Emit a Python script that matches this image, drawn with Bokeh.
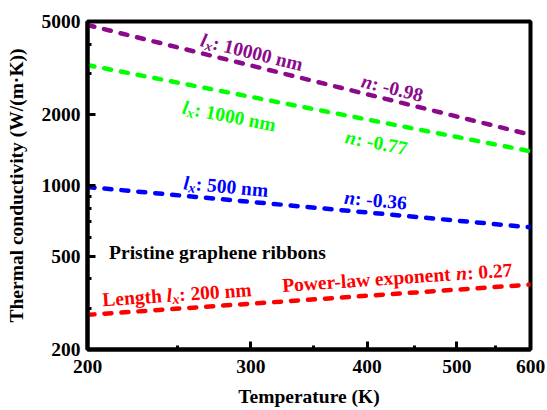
import math

from bokeh.core.properties import value
from bokeh.embed import file_html
from bokeh.models import ColumnDataSource, FixedTicker, NumeralTickFormatter, Range1d
from bokeh.plotting import figure
from bokeh.resources import INLINE

# Power-law fits kappa(T) = kappa_200 * (T / 200) ** n for pristine graphene ribbons
temps = [200, 600]
lengths_nm = [10000, 1000, 500, 200]
kappa_200 = [4830, 3260, 985, 281]
exponents = [-0.98, -0.77, -0.36, 0.27]
colors = ["#8B0A8B", "#00FF00", "#0000FF", "#FF0000"]

x_major = [200, 300, 400, 500, 600]
x_minor = [250, 350, 450, 550]
y_major = [200, 500, 1000, 2000, 5000]
y_minor = [300, 400, 600, 700, 800, 900, 3000, 4000]

note_text = "Pristine graphene ribbons"
note_pos = (211, 520)

# label layout: (series index, start temperature, perpendicular offset px, prefix, symbol, suffix)
label_specs = [
    (0, 263, 13, "", "lx", ": 10000 nm"),
    (0, 392, 12, "", "n", ": -0.98"),
    (1, 256, -23, "", "lx", ": 1000 nm"),
    (1, 383, -21, "", "n", ": -0.77"),
    (2, 253, 13, "", "lx", ": 500 nm"),
    (2, 377, 13, "", "n", ": -0.36"),
    (3, 208, 14, "Length ", "lx", ": 200 nm"),
    (3, 325, 16, "Power-law exponent ", "n", ": 0.27"),
]

FONT = "Liberation Serif"
FS = 19.5
W, H = 547, 410
BL, BR, BT, BB = 87, 17, 21, 61
FRAME_W, FRAME_H = W - BL - BR, H - BT - BB
X0, X1, Y0, Y1 = 200, 600, 200, 5000

# Times-Bold advance widths (1/1000 em)
BOLD_W = {" ": 250, "-": 333, ".": 250, ":": 333, "L": 667, "P": 611, "a": 500,
          "e": 444, "g": 500, "h": 556, "l": 278, "m": 833, "n": 556, "o": 500,
          "p": 556, "r": 444, "t": 333, "w": 722, "x": 500}
for d in "0123456789":
    BOLD_W[d] = 500
ITAL_W = {"l": 278, "n": 556, "x": 500}


def kappa(i, t):
    return kappa_200[i] * (t / 200.0) ** exponents[i]


def screen_angle(n):
    rise = n * math.log10(X1 / X0) / math.log10(Y1 / Y0) * FRAME_H
    return math.atan2(rise, FRAME_W)


p = figure(width=W, height=H, x_axis_type="log", y_axis_type="log",
           x_range=Range1d(X0, X1), y_range=Range1d(Y0, Y1),
           output_backend="svg", toolbar_location=None,
           min_border_left=BL, min_border_right=BR,
           min_border_top=BT, min_border_bottom=BB)
p.background_fill_color = "white"
p.border_fill_color = "white"
p.outline_line_color = "black"
p.outline_line_width = 4
p.xgrid.visible = False
p.ygrid.visible = False

for i in range(len(lengths_nm)):
    p.line(temps, [kappa(i, t) for t in temps], line_color=colors[i],
           line_width=4.5, line_dash="7 10", line_cap="round")

# build rotated label pieces (upright bold and bold-italic runs)
pieces = {"bold": dict(x=[], y=[], text=[], xo=[], yo=[], angle=[], fs=[], color=[]),
          "bold italic": dict(x=[], y=[], text=[], xo=[], yo=[], angle=[], fs=[], color=[])}

for idx, t0, perp, prefix, sym, suffix in label_specs:
    a = screen_angle(exponents[idx])
    runs = []
    if prefix:
        runs.append((prefix, "bold", 1.0, 0.0))
    if sym == "lx":
        runs.append(("l", "bold italic", 1.0, 0.0))
        runs.append(("x", "bold italic", 0.72, -4.5))
    else:
        runs.append((sym, "bold italic", 1.0, 0.0))
    runs.append((suffix, "bold", 1.0, 0.0))
    s = 0.0
    for txt, style, scale, rise in runs:
        size = FS * scale
        table = BOLD_W if style == "bold" else ITAL_W
        h = perp + rise
        xo = s * math.cos(a) - h * math.sin(a)
        yo = -s * math.sin(a) - h * math.cos(a)
        col = pieces[style]
        col["x"].append(t0)
        col["y"].append(kappa(idx, t0))
        col["text"].append(txt)
        col["xo"].append(xo)
        col["yo"].append(yo)
        col["angle"].append(a)
        col["fs"].append(f"{size:.1f}px")
        col["color"].append(colors[idx])
        s += sum(table[ch] for ch in txt) * size / 1000.0

for style, data in pieces.items():
    p.text(x="x", y="y", text="text", x_offset="xo", y_offset="yo", angle="angle",
           text_font=value(FONT), text_font_style=style, text_font_size="fs",
           text_color="color", text_align="left", text_baseline="alphabetic",
           source=ColumnDataSource(data))

p.text(x=[note_pos[0]], y=[note_pos[1]], text=[note_text], text_font=value(FONT),
       text_font_style="bold", text_font_size=f"{FS}px", text_color="black",
       text_align="left", text_baseline="alphabetic")

p.xaxis.ticker = FixedTicker(ticks=x_major, minor_ticks=x_minor)
p.yaxis.ticker = FixedTicker(ticks=y_major, minor_ticks=y_minor)
p.xaxis.axis_label = "Temperature (K)"
p.yaxis.axis_label = "Thermal conductivity (W/(m\u00b7K))"

for ax in (p.xaxis[0], p.yaxis[0]):
    ax.formatter = NumeralTickFormatter(format="0")
    ax.axis_line_color = "black"
    ax.axis_line_width = 4
    ax.major_tick_in = 8
    ax.major_tick_out = 0
    ax.minor_tick_in = 4
    ax.minor_tick_out = 0
    ax.major_tick_line_width = 3
    ax.minor_tick_line_width = 3
    ax.major_tick_line_color = "black"
    ax.minor_tick_line_color = "black"
    ax.major_label_text_font = FONT
    ax.major_label_text_font_style = "bold"
    ax.major_label_text_font_size = f"{FS}px"
    ax.major_label_text_color = "black"
    ax.axis_label_text_font = FONT
    ax.axis_label_text_font_style = "bold"
    ax.axis_label_text_font_size = f"{FS}px"
    ax.axis_label_text_color = "black"

p.xaxis.major_label_standoff = 10
p.xaxis.axis_label_standoff = 10
p.yaxis.major_label_standoff = 7
p.yaxis.axis_label_standoff = 12

open("out.html", "w").write(file_html(p, INLINE))
